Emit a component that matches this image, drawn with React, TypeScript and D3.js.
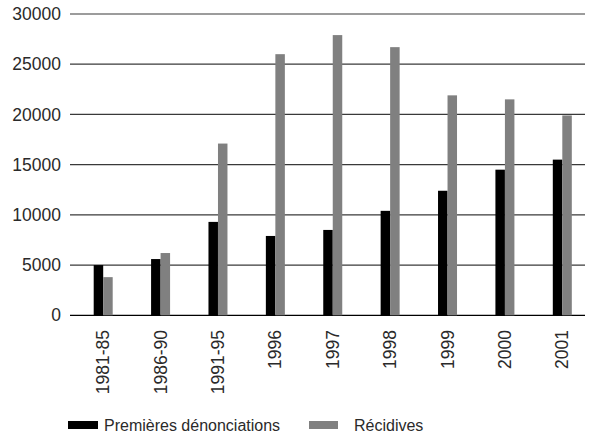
import * as d3 from "d3";

const categories = ["1981-85", "1986-90", "1991-95", "1996", "1997", "1998", "1999", "2000", "2001"];
const premieres = [5000, 5600, 9300, 7900, 8500, 10400, 12400, 14500, 15500];
const recidives = [3800, 6200, 17100, 26000, 27900, 26700, 21900, 21500, 19900];
const yTicks = [0, 5000, 10000, 15000, 20000, 25000, 30000];
const seriesNames = ["Premières dénonciations", "Récidives"];
const colors = ["#000000", "#808080"];

const W = 594;
const H = 434;
const font = "'Liberation Sans', Arial, sans-serif";

export default function App() {
  const x = d3.scaleBand<string>().domain(categories).range([74.5, 591]);
  const y = d3.scaleLinear().domain([0, 30000]).range([315.3, 14]);
  const barW = 9.5;
  const series = [premieres, recidives];

  return (
    <svg width={W} height={H} style={{ position: "absolute", left: 0, top: 0, background: "#fff" }} fontFamily={font}>
      {yTicks.map((t) => (
        <g key={t}>
          <line x1={70} x2={585} y1={y(t)} y2={y(t)} stroke={t === 0 ? "#000" : "#3a3a3a"} strokeWidth={1.2} />
          <text x={61} y={y(t)} dy="0.35em" textAnchor="end" fontSize={17.5} fill="#2a2a2a">{t}</text>
        </g>
      ))}
      {series.map((vals, si) =>
        vals.map((v, i) => {
          const cx = (x(categories[i]) ?? 0) + x.bandwidth() / 2;
          return (
            <rect
              key={`${si}-${i}`}
              x={cx - barW + si * barW}
              y={y(v)}
              width={barW}
              height={y(0) - y(v)}
              fill={colors[si]}
            />
          );
        })
      )}
      {categories.map((c) => {
        const cx = (x(c) ?? 0) + x.bandwidth() / 2;
        return (
          <text key={c} transform={`translate(${cx},330) rotate(-90)`} dy="0.35em" textAnchor="end" fontSize={17.5} fill="#2a2a2a">
            {c}
          </text>
        );
      })}
      <rect x={68} y={421} width={30} height={8} fill={colors[0]} />
      <text x={104} y={425} dy="0.35em" fontSize={16} fill="#2a2a2a">{seriesNames[0]}</text>
      <rect x={309} y={421} width={29} height={8} fill={colors[1]} />
      <text x={354} y={425} dy="0.35em" fontSize={16} fill="#2a2a2a">{seriesNames[1]}</text>
    </svg>
  );
}
